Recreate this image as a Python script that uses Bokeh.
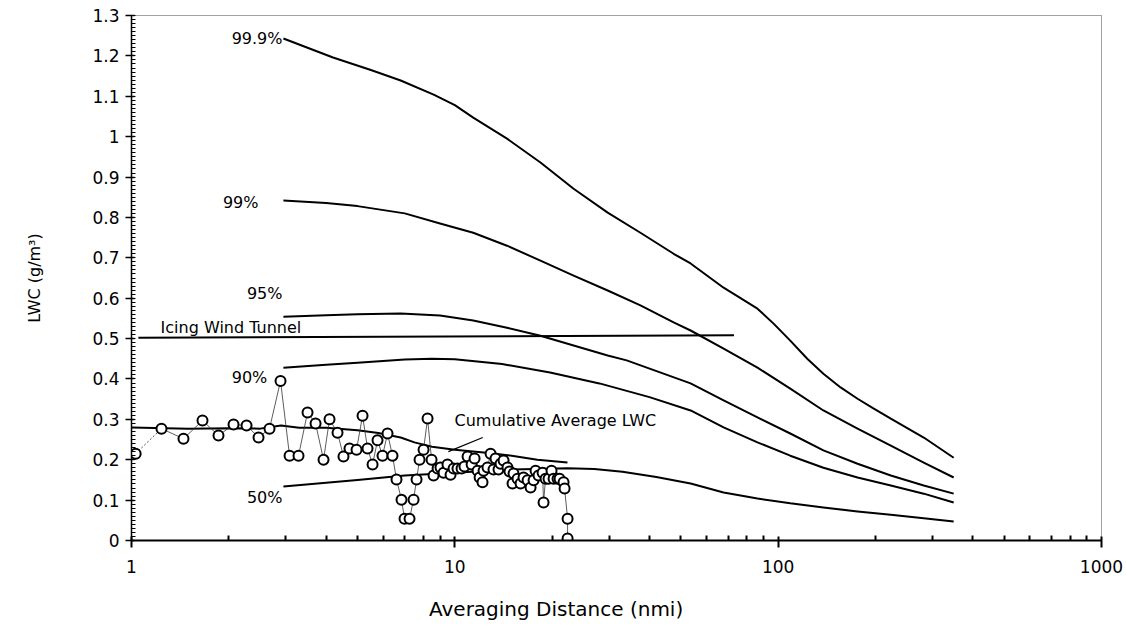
from bokeh.plotting import figure
from bokeh.models import FixedTicker, CustomJSTickFormatter, Label
from bokeh.embed import file_html
from bokeh.resources import INLINE

# ---------------- data ----------------
p999_x = [2.95, 4.2, 5.5, 6.8, 8.6, 10.0, 11.4, 14.5, 18.4, 23.3, 29.7, 37.5, 47.5, 53.6, 67.8, 86.3, 96.8, 109, 123, 138, 156, 176, 197, 223, 282, 349]
p999_y = [1.243, 1.196, 1.165, 1.139, 1.104, 1.078, 1.047, 0.995, 0.936, 0.871, 0.812, 0.762, 0.710, 0.686, 0.626, 0.574, 0.537, 0.495, 0.450, 0.413, 0.379, 0.351, 0.327, 0.302, 0.255, 0.205]

p99_x = [2.95, 4.0, 5.0, 7.0, 9.0, 11.4, 14.5, 18.4, 23.3, 29.7, 37.5, 47.5, 53.6, 67.8, 86.3, 109, 138, 176, 223, 282, 349]
p99_y = [0.842, 0.836, 0.828, 0.81, 0.785, 0.762, 0.730, 0.693, 0.656, 0.619, 0.582, 0.540, 0.520, 0.475, 0.428, 0.376, 0.322, 0.277, 0.235, 0.193, 0.156]

p95_x = [2.95, 4.0, 5.0, 6.8, 9.0, 11.4, 14.5, 18.4, 23.3, 29.7, 34.0, 53.6, 67.8, 86.3, 109, 138, 176, 223, 282, 349]
p95_y = [0.554, 0.558, 0.560, 0.562, 0.557, 0.545, 0.527, 0.507, 0.483, 0.458, 0.446, 0.389, 0.347, 0.305, 0.265, 0.223, 0.190, 0.161, 0.136, 0.116]

p90_x = [2.95, 4.0, 5.0, 7.0, 8.5, 10.0, 14.0, 19.7, 28.0, 40.0, 53.6, 67.8, 86.3, 109, 138, 176, 223, 282, 349]
p90_y = [0.428, 0.435, 0.440, 0.448, 0.450, 0.449, 0.437, 0.416, 0.389, 0.355, 0.322, 0.280, 0.243, 0.210, 0.180, 0.156, 0.136, 0.116, 0.094]

p50_x = [2.95, 5.0, 7.0, 10.0, 15.0, 22.3, 27.0, 33.0, 42.0, 53.6, 67.8, 86.3, 109, 138, 176, 223, 282, 349]
p50_y = [0.134, 0.150, 0.161, 0.168, 0.176, 0.179, 0.177, 0.170, 0.157, 0.141, 0.119, 0.104, 0.092, 0.082, 0.072, 0.064, 0.055, 0.047]

cum_x = [1.0, 1.5, 2.0, 2.5, 2.9, 3.3, 4.0, 5.0, 5.8, 6.8, 7.5, 8.5, 10, 12.5, 15, 18, 22.3]
cum_y = [0.28, 0.277, 0.278, 0.277, 0.285, 0.279, 0.279, 0.273, 0.266, 0.255, 0.243, 0.232, 0.225, 0.217, 0.21, 0.2, 0.193]

obs_x = [1.03, 1.238, 1.448, 1.658, 1.858, 2.068, 2.269, 2.471, 2.672, 2.89,
         3.082, 3.285, 3.503, 3.709, 3.926, 4.097, 4.337, 4.525, 4.723, 4.966,
         5.183, 5.37, 5.566, 5.767, 5.975, 6.192, 6.416, 6.601, 6.841, 6.989,
         7.243, 7.454, 7.614, 7.778, 8.003, 8.235, 8.473, 8.595, 8.844, 9.03,
         9.23, 9.49, 9.70, 9.91, 10.19, 10.49, 10.71, 10.95, 11.27, 11.51,
         11.76, 11.93, 12.18, 12.27, 12.62, 12.90, 13.17, 13.36, 13.65, 13.85,
         14.15, 14.55, 14.76, 15.08, 15.19, 15.63, 15.97, 16.31, 16.79, 17.15,
         17.52, 17.77, 18.15, 18.68, 18.81, 19.08, 19.49, 19.91, 20.20, 20.78,
         21.08, 21.69, 21.85, 22.32, 22.32]
obs_y = [0.215, 0.277, 0.252, 0.297, 0.26, 0.287, 0.285, 0.255, 0.277, 0.395,
         0.21, 0.21, 0.317, 0.29, 0.20, 0.30, 0.267, 0.208, 0.228, 0.225,
         0.309, 0.228, 0.188, 0.248, 0.21, 0.265, 0.21, 0.151, 0.101, 0.054,
         0.054, 0.101, 0.151, 0.20, 0.225, 0.302, 0.20, 0.161, 0.178, 0.181,
         0.168, 0.188, 0.163, 0.178, 0.178, 0.178, 0.183, 0.208, 0.188, 0.203,
         0.173, 0.156, 0.144, 0.173, 0.181, 0.215, 0.176, 0.203, 0.176, 0.19,
         0.198, 0.181, 0.171, 0.141, 0.166, 0.153, 0.141, 0.156, 0.149, 0.131,
         0.149, 0.173, 0.161, 0.168, 0.094, 0.153, 0.153, 0.173, 0.153, 0.153,
         0.153, 0.144, 0.129, 0.054, 0.005]

tunnel_x = [1.05, 73]
tunnel_y = [0.502, 0.508]

leader_x = [9.55, 12.2]
leader_y = [0.22, 0.255]

label_texts = ["99.9%", "99%", "95%", "90%", "50%", "Icing Wind Tunnel", "Cumulative Average LWC"]
label_x = [2.93, 2.47, 2.93, 2.63, 2.93, 1.23, 9.98]
label_y = [1.243, 0.837, 0.611, 0.403, 0.106, 0.527, 0.297]
label_align = ["right", "right", "right", "right", "right", "left", "left"]

x_title = "Averaging Distance (nmi)"
y_title = "LWC (g/m³)"

x_major = [1, 10, 100, 1000]
x_minor = [m * d for d in (1, 10, 100) for m in range(2, 10)]
y_major = [round(0.1 * i, 1) for i in range(14)]
y_minor = [round(0.01 * i, 2) for i in range(131)]

FONT = "DejaVu Sans"

# ---------------- figure ----------------
p = figure(width=1126, height=630, x_axis_type="log", x_range=(1, 1000), y_range=(0, 1.3),
           output_backend="svg", toolbar_location=None,
           min_border_left=131, min_border_right=25, min_border_top=15, min_border_bottom=90)
p.background_fill_color = "white"
p.border_fill_color = "white"
p.xgrid.visible = False
p.ygrid.visible = False
p.outline_line_color = "#444444"
p.outline_line_dash = "1 1"
p.outline_line_width = 1

for xs, ys in ((p999_x, p999_y), (p99_x, p99_y), (p95_x, p95_y), (p90_x, p90_y), (p50_x, p50_y)):
    p.line(xs, ys, line_color="black", line_width=2, line_join="round")

p.line(tunnel_x, tunnel_y, line_color="black", line_width=2)
p.line(cum_x, cum_y, line_color="black", line_width=2, line_join="round")
p.line(leader_x, leader_y, line_color="black", line_width=1.3)

p.line(obs_x[:2], obs_y[:2], line_color="#555555", line_width=1, line_dash="2 2")
p.line(obs_x[1:], obs_y[1:], line_color="#333333", line_width=0.8)
p.scatter(obs_x, obs_y, marker="circle", size=10, fill_color="white",
          line_color="black", line_width=2)

for t, lx, ly, al in zip(label_texts, label_x, label_y, label_align):
    p.add_layout(Label(x=lx, y=ly, text=t, text_align=al, text_baseline="middle",
                       text_font=FONT, text_font_size="16px", text_color="black"))

# x axis
xa = p.xaxis[0]
xa.ticker = FixedTicker(ticks=x_major, minor_ticks=x_minor)
xa.formatter = CustomJSTickFormatter(code="return tick.toFixed(0);")
xa.axis_line_width = 2
xa.axis_line_color = "black"
xa.major_tick_out = 7
xa.major_tick_in = 4
xa.minor_tick_in = 5
xa.minor_tick_out = 0
xa.major_tick_line_width = 2
xa.minor_tick_line_width = 2
xa.major_label_text_font = FONT
xa.major_label_text_font_size = "17px"
xa.major_label_text_color = "black"
xa.major_label_standoff = 12
# the reference title sits left of the frame centre: pad with no-break spaces
xa.axis_label = x_title + "\u00a0" * 19
xa.axis_label_text_font = FONT
xa.axis_label_text_font_size = "20px"
xa.axis_label_text_font_style = "normal"
xa.axis_label_text_color = "black"
xa.axis_label_standoff = 21

# y axis
ya = p.yaxis[0]
ya.ticker = FixedTicker(ticks=y_major, minor_ticks=y_minor)
ya.formatter = CustomJSTickFormatter(code="return (Math.round(tick*10)/10).toString();")
ya.axis_line_width = 1.5
ya.axis_line_color = "black"
ya.major_tick_out = 6
ya.major_tick_in = 3
ya.minor_tick_in = 4
ya.minor_tick_out = 0
ya.major_tick_line_width = 1.5
ya.minor_tick_line_width = 1
ya.major_label_text_font = FONT
ya.major_label_text_font_size = "17px"
ya.major_label_text_color = "black"
ya.major_label_standoff = 6
ya.axis_label = y_title
ya.axis_label_text_font = FONT
ya.axis_label_text_font_size = "16px"
ya.axis_label_text_font_style = "normal"
ya.axis_label_text_color = "black"
ya.axis_label_standoff = 45

open("out.html", "w").write(file_html(p, INLINE))
